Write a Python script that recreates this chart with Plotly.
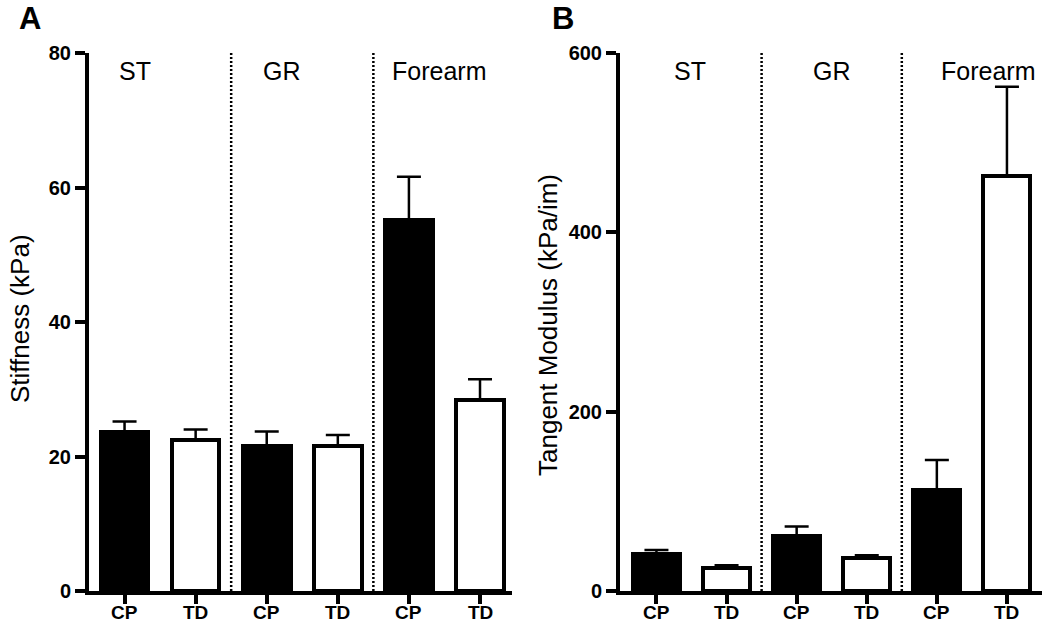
import plotly.graph_objects as go

# ---- data ----
groups = ["ST", "GR", "Forearm"]
conditions = ["CP", "TD", "CP", "TD", "CP", "TD"]
stiffness_mean = [23.7, 22.4, 21.6, 21.5, 55.2, 28.4]
stiffness_sem = [1.5, 1.6, 2.1, 1.7, 6.4, 3.1]
tangent_mean = [41.7, 25.7, 61.5, 36.9, 112.5, 463.0]
tangent_sem = [4.1, 3.0, 10.5, 3.0, 33.5, 99.5]
stiff_ticks = [0, 20, 40, 60, 80]
tang_ticks = [0, 200, 400, 600]

FONT = "Liberation Sans, Arial, Helvetica, sans-serif"
xpos = list(range(len(conditions)))
fills = ["black" if c == "CP" else "white" for c in conditions]

fig = go.Figure()

def add_panel(means, sems, xa, ya):
    fig.add_trace(go.Bar(
        x=xpos, y=means, width=0.67,
        marker=dict(color=fills, line=dict(color="black", width=4)),
        error_y=dict(type="data", array=sems, arrayminus=[0] * len(sems),
                     symmetric=False, color="black", thickness=2.5, width=12),
        xaxis=xa, yaxis=ya, showlegend=False,
    ))

add_panel(stiffness_mean, stiffness_sem, "x", "y")
add_panel(tangent_mean, tangent_sem, "x2", "y2")

xcommon = dict(
    tickmode="array", tickvals=xpos, showticklabels=False,
    showline=True, linecolor="black", linewidth=4,
    ticks="outside", ticklen=9, tickwidth=3.5, tickcolor="black",
    showgrid=False, zeroline=False, automargin=False,
)
ycommon = dict(
    showline=True, linecolor="black", linewidth=4,
    ticks="outside", ticklen=10, tickwidth=3.5, tickcolor="black",
    showgrid=False, zeroline=False, automargin=False,
    tickfont=dict(family=FONT, size=20, color="black", weight="bold"),
)

ydom = [1 - 591 / 624, 1 - 53 / 624]
fig.update_layout(
    template="none",
    width=1050, height=624,
    margin=dict(l=0, r=0, t=0, b=0, pad=0, autoexpand=False),
    paper_bgcolor="white", plot_bgcolor="white",
    bargap=0,
    xaxis=dict(domain=[89 / 1050, 512 / 1050], range=[-0.5, 5.45], anchor="y", **xcommon),
    yaxis=dict(domain=ydom, range=[0, 80], tickvals=stiff_ticks, anchor="x", **ycommon),
    xaxis2=dict(domain=[620 / 1050, 1042 / 1050], range=[-0.52, 5.5], anchor="y2", **xcommon),
    yaxis2=dict(domain=ydom, range=[0, 600], tickvals=tang_ticks, anchor="x2", **ycommon),
)

# condition labels under the ticks (placed from the data arrays)
for xa in ("x", "x2"):
    for xv, c in zip(xpos, conditions):
        fig.add_annotation(text=c, x=xv, xref=xa, y=0, yref="paper",
                           showarrow=False, xanchor="center", yanchor="bottom",
                           borderpad=0,
                           font=dict(family=FONT, size=19, color="black", weight="bold"))

# dotted separators between groups
for xa, ya, top in (("x", "y", 80), ("x2", "y2", 600)):
    for xs in (1.5, 3.5):
        fig.add_shape(type="line", xref=xa, yref=ya, x0=xs, x1=xs, y0=0, y1=top,
                      line=dict(color="black", width=2.5, dash="2px,2px"))

# group labels
grp_x_a = [0.14, 2.22, 4.43]
grp_x_b = [0.48, 2.5, 4.73]
for xa, gx in (("x", grp_x_a), ("x2", grp_x_b)):
    for g, xv in zip(groups, gx):
        fig.add_annotation(text=g, x=xv, xref=xa, y=1 - 71 / 624, yref="paper",
                           showarrow=False, xanchor="center", yanchor="middle",
                           font=dict(family=FONT, size=25, color="black"))

# axis titles
fig.add_annotation(text="Stiffness (kPa)", x=20 / 1050, y=1 - 319 / 624,
                   xref="paper", yref="paper", textangle=-90, showarrow=False,
                   xanchor="center", yanchor="middle",
                   font=dict(family=FONT, size=26, color="black"))
fig.add_annotation(text="Tangent Modulus (kPa/im)", x=548 / 1050, y=1 - 325 / 624,
                   xref="paper", yref="paper", textangle=-90, showarrow=False,
                   xanchor="center", yanchor="middle",
                   font=dict(family=FONT, size=26, color="black"))

# panel letters
for letter, px in (("A", 30), ("B", 563)):
    fig.add_annotation(text=letter, x=px / 1050, y=1,
                       xref="paper", yref="paper", showarrow=False,
                       xanchor="center", yanchor="top", borderpad=0,
                       font=dict(family=FONT, size=31, color="black", weight="bold"))

fig.write_html("out.html",
               config={"displayModeBar": False},
               post_script="document.body.style.margin='0px';"
                           "document.documentElement.style.overflow='hidden';")
